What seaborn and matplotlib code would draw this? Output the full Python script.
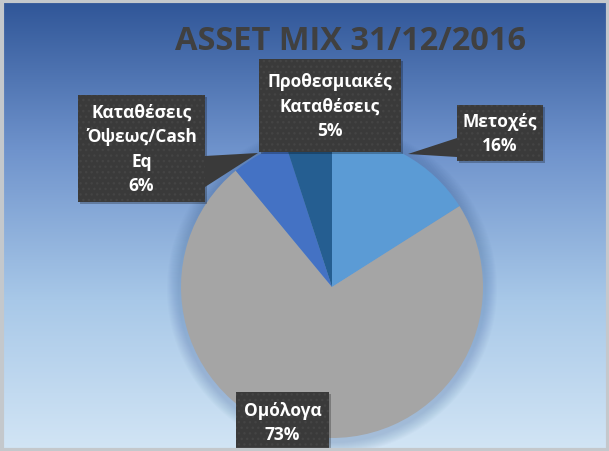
import numpy as np
import matplotlib
matplotlib.use("Agg")
import matplotlib.pyplot as plt
import seaborn as sns
from matplotlib.colors import LinearSegmentedColormap
from matplotlib.patches import Rectangle, Circle, Polygon

sns.set_style("white")
plt.rcParams['font.family'] = ['Open Sans', 'DejaVu Sans']

# data
categories = ['Μετοχές', 'Ομόλογα', 'Καταθέσεις\nΌψεως/Cash\nEq', 'Προθεσμιακές\nΚαταθέσεις']
shares = [16, 73, 6, 5]
colors = ['#5b9bd5', '#a5a5a5', '#4472c4', '#255e91']
title = "ASSET MIX 31/12/2016"

W, H = 609, 452
fig = plt.figure(figsize=(W / 100, H / 100), dpi=100)
ax = fig.add_axes([0, 0, 1, 1])

# gradient background
bg = LinearSegmentedColormap.from_list('bg', ['#2f5597', '#6f93cc', '#a8c8e8', '#d2e5f5'])
grad = np.linspace(0, 1, 256).reshape(-1, 1)
ax.imshow(grad, cmap=bg, extent=[0, W, 0, H], aspect='auto', origin='upper', zorder=0)
ax.add_patch(Rectangle((1.5, 1.5), W - 3, H - 3, fill=False, ec='#c4c8cc', lw=3, zorder=10))

cx, cy, r = 332, H - 288, 151

# soft shadow behind the pie
for i in range(12):
    ax.add_patch(Circle((cx, cy - 2), r + 14 - i, fc='#3a5f95', ec='none', alpha=0.025, zorder=1))

wedges, _ = ax.pie(shares, colors=colors, startangle=90, counterclock=False,
                   center=(cx, cy), radius=r, wedgeprops=dict(linewidth=0), frame=True)
for w in wedges:
    w.set_zorder(2)
ax.set_xlim(0, W)
ax.set_ylim(0, H)
ax.axis('off')

ax.text(350, H - 41, title, ha='center', va='center', fontsize=23.5, fontweight='bold',
        color='#404040', zorder=5)

# label boxes (image coords: x0, y0, x1, y1) and pointer triangles
boxes = [(457, 106, 543, 162), (236, 393, 329, 462), (78, 96, 205, 203), (259, 60, 401, 153)]
pointers = {0: [(457, 139), (457, 158), (408, 155)],
            2: [(205, 157), (258, 154), (205, 188)]}
lab = [f"{c}\n{s}%" for c, s in zip(categories, shares)]
box_c = '#3a3a3a'

for i, (x0, y0, x1, y1) in enumerate(boxes):
    ax.add_patch(Rectangle((x0 + 2, H - y1 - 2), x1 - x0, y1 - y0, fc='black', ec='none',
                           alpha=0.25, zorder=4))
    ax.add_patch(Rectangle((x0, H - y1), x1 - x0, y1 - y0, fc=box_c, ec='#444444', lw=0,
                           hatch='...', zorder=5))
    if i in pointers:
        ax.add_patch(Polygon([(px, H - py) for px, py in pointers[i]], closed=True,
                             fc=box_c, ec='none', zorder=5))
    ty = (y0 + y1) / 2 if i != 1 else 423
    ax.text((x0 + x1) / 2, H - ty, lab[i], ha='center', va='center', color='white',
            fontsize=12.5, fontweight='bold', linespacing=1.45, zorder=6)

fig.savefig('out.png', dpi=100)
